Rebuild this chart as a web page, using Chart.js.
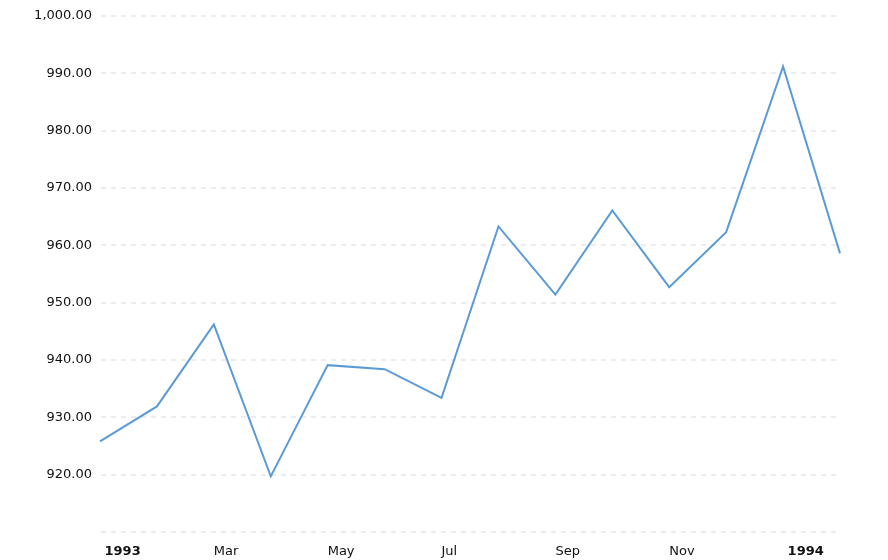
<!DOCTYPE html>
<html>
<head>
<meta charset="utf-8">
<script src="https://cdn.jsdelivr.net/npm/chart.js@4.4.0/dist/chart.umd.min.js"></script>
<style>
  html, body { margin: 0; padding: 0; background: #ffffff; }
  #wrap { width: 888px; height: 560px; }
</style>
</head>
<body>
<div id="wrap"><canvas id="c" width="888" height="560"></canvas></div>
<script>
const months = ['Jan 1993','Feb 1993','Mar 1993','Apr 1993','May 1993','Jun 1993','Jul 1993',
                'Aug 1993','Sep 1993','Oct 1993','Nov 1993','Dec 1993','Jan 1994','Feb 1994'];
const tickLabels = [' 1993','','Mar','','May','','Jul','','Sep','','Nov','',' 1994',''];
const boldTicks = [' 1993',' 1994'];
const prices = [925.8, 931.9, 946.2, 919.7, 939.1, 938.4, 933.4, 963.3, 951.4, 966.1, 952.7, 962.3, 991.2, 958.6];
const yMin = 910, yMax = 1000, yStep = 10;
const hiddenYTicks = [910];

const fmt = new Intl.NumberFormat('en-US', {minimumFractionDigits: 2, maximumFractionDigits: 2});

new Chart(document.getElementById('c'), {
  type: 'line',
  data: {
    labels: months,
    datasets: [{
      data: prices,
      borderColor: '#5b9bd5',
      borderWidth: 2,
      pointRadius: 0,
      tension: 0,
      fill: false
    }]
  },
  options: {
    responsive: false,
    animation: false,
    layout: { padding: { top: 16, right: 48, bottom: 0, left: 0 } },
    plugins: { legend: { display: false }, tooltip: { enabled: false } },
    scales: {
      x: {
        type: 'category',
        offset: false,
        grid: { display: false, drawTicks: false },
        border: { display: false },
        afterFit: s => { s.height = 28; },
        ticks: {
          autoSkip: false,
          maxRotation: 0,
          align: 'start',
          padding: 12,
          color: '#111111',
          font: ctx => ({ family: 'DejaVu Sans', size: 13,
            weight: boldTicks.includes(tickLabels[ctx.index]) ? 'bold' : 'normal' }),
          callback: (v, i) => tickLabels[i]
        }
      },
      y: {
        min: yMin,
        max: yMax,
        afterFit: s => { s.width = 100; },
        grid: { color: '#ececec', lineWidth: 2, drawTicks: false },
        border: { display: false, dash: [5, 5], dashOffset: -1 },
        ticks: {
          stepSize: yStep,
          padding: 8,
          color: '#111111',
          font: { family: 'DejaVu Sans', size: 13 },
          callback: v => hiddenYTicks.includes(v) ? '' : fmt.format(v)
        }
      }
    }
  }
});
</script>
</body>
</html>
